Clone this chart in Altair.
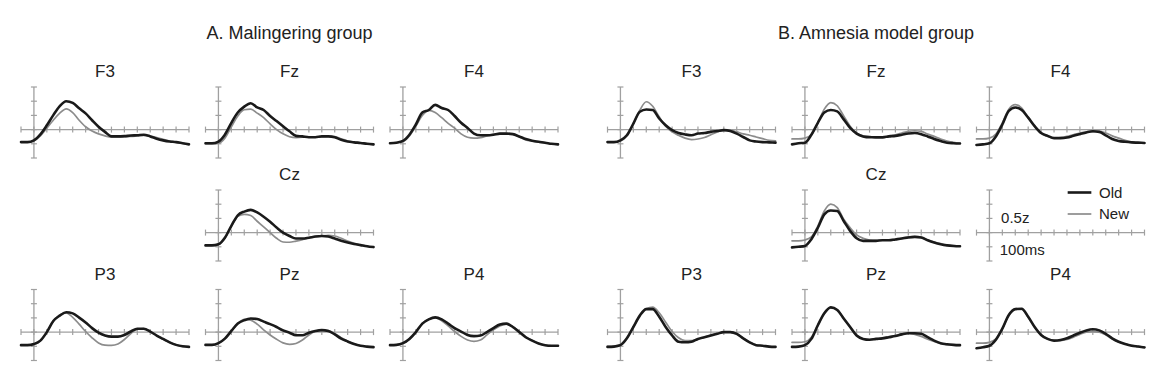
import altair as alt
import pandas as pd

# ---------------- data (z-scored ERP amplitude, sampled every 50 ms) ----------------
TIMES = list(range(-100, 1201, 50))
X_TICKS = list(range(-100, 1201, 100))
Y_TICKS = [-1, -0.5, 0, 0.5, 1, 1.5]
CONDS = ["Old", "New"]

A_F3_old = [-0.44,-0.44,-0.38,-0.17,0.15,0.51,0.83,1.00,0.94,0.75,0.57,0.33,0.10,-0.08,-0.24,-0.24,-0.23,-0.21,-0.20,-0.18,-0.24,-0.32,-0.38,-0.42,-0.44,-0.48,-0.52]
A_F3_new = [-0.44,-0.44,-0.40,-0.22,0.05,0.33,0.58,0.73,0.60,0.33,0.10,-0.05,-0.15,-0.22,-0.26,-0.26,-0.25,-0.24,-0.22,-0.20,-0.22,-0.28,-0.34,-0.40,-0.44,-0.48,-0.51]
A_Fz_old = [-0.48,-0.48,-0.42,-0.18,0.24,0.60,0.81,0.93,0.78,0.69,0.48,0.30,0.12,-0.06,-0.22,-0.24,-0.27,-0.27,-0.24,-0.24,-0.27,-0.36,-0.42,-0.45,-0.47,-0.50,-0.52]
A_Fz_new = [-0.50,-0.50,-0.48,-0.30,0.10,0.48,0.70,0.72,0.58,0.42,0.20,0.00,-0.15,-0.25,-0.28,-0.27,-0.27,-0.26,-0.25,-0.24,-0.25,-0.32,-0.40,-0.44,-0.47,-0.50,-0.52]
A_F4_old = [-0.48,-0.46,-0.40,-0.18,0.18,0.60,0.69,0.87,0.76,0.69,0.48,0.24,0.06,-0.14,-0.20,-0.20,-0.18,-0.14,-0.14,-0.16,-0.24,-0.33,-0.39,-0.43,-0.46,-0.50,-0.52]
A_F4_new = [-0.48,-0.46,-0.42,-0.22,0.12,0.50,0.68,0.60,0.42,0.22,0.05,-0.15,-0.27,-0.30,-0.28,-0.22,-0.17,-0.14,-0.14,-0.16,-0.25,-0.36,-0.40,-0.44,-0.47,-0.50,-0.52]
A_Cz_old = [-0.45,-0.45,-0.41,-0.18,0.24,0.61,0.74,0.80,0.71,0.56,0.38,0.18,0.00,-0.12,-0.21,-0.21,-0.18,-0.14,-0.12,-0.14,-0.21,-0.29,-0.35,-0.40,-0.44,-0.48,-0.51]
A_Cz_new = [-0.45,-0.45,-0.42,-0.20,0.22,0.58,0.64,0.60,0.40,0.20,0.00,-0.20,-0.33,-0.34,-0.30,-0.25,-0.18,-0.14,-0.12,-0.10,-0.12,-0.20,-0.30,-0.38,-0.43,-0.48,-0.51]
A_P3_old = [-0.46,-0.46,-0.42,-0.30,0.00,0.39,0.58,0.70,0.66,0.51,0.34,0.14,-0.02,-0.12,-0.16,-0.16,-0.10,0.02,0.12,0.12,0.02,-0.12,-0.24,-0.36,-0.45,-0.50,-0.52]
A_P3_new = [-0.46,-0.46,-0.44,-0.30,0.00,0.38,0.60,0.68,0.52,0.28,0.02,-0.20,-0.38,-0.46,-0.47,-0.42,-0.26,-0.05,0.10,0.12,0.02,-0.12,-0.25,-0.36,-0.45,-0.50,-0.52]
A_Pz_old = [-0.45,-0.45,-0.39,-0.23,0.04,0.30,0.42,0.48,0.46,0.37,0.28,0.18,0.06,-0.02,-0.11,-0.11,-0.02,0.04,0.07,0.04,-0.08,-0.23,-0.33,-0.42,-0.48,-0.51,-0.53]
A_Pz_new = [-0.45,-0.45,-0.40,-0.23,0.04,0.30,0.45,0.42,0.28,0.08,-0.10,-0.25,-0.38,-0.43,-0.40,-0.28,-0.10,0.03,0.07,0.05,-0.05,-0.20,-0.32,-0.42,-0.48,-0.52,-0.53]
A_P4_old = [-0.46,-0.45,-0.39,-0.24,0.00,0.30,0.45,0.52,0.45,0.30,0.14,0.02,-0.10,-0.14,-0.12,0.00,0.14,0.27,0.30,0.18,0.00,-0.18,-0.30,-0.40,-0.46,-0.48,-0.48]
A_P4_new = [-0.46,-0.45,-0.40,-0.25,0.00,0.30,0.45,0.50,0.40,0.22,0.02,-0.15,-0.28,-0.33,-0.28,-0.10,0.08,0.22,0.28,0.20,0.02,-0.16,-0.30,-0.40,-0.46,-0.48,-0.49]

B_F3_old = [-0.44,-0.44,-0.38,-0.20,0.21,0.63,0.71,0.69,0.39,0.15,-0.02,-0.12,-0.17,-0.20,-0.14,-0.12,-0.08,-0.05,-0.02,-0.05,-0.14,-0.26,-0.38,-0.42,-0.44,-0.45,-0.46]
B_F3_new = [-0.44,-0.44,-0.40,-0.22,0.20,0.68,0.98,0.82,0.45,0.12,-0.08,-0.20,-0.30,-0.35,-0.33,-0.28,-0.18,-0.08,-0.02,-0.02,-0.08,-0.15,-0.20,-0.26,-0.32,-0.38,-0.40]
B_Fz_old = [-0.52,-0.48,-0.46,-0.18,0.24,0.60,0.69,0.64,0.36,0.06,-0.14,-0.24,-0.27,-0.27,-0.27,-0.24,-0.22,-0.18,-0.14,-0.12,-0.16,-0.24,-0.33,-0.40,-0.46,-0.48,-0.49]
B_Fz_new = [-0.33,-0.33,-0.30,-0.18,0.24,0.72,0.95,0.84,0.48,0.12,-0.12,-0.22,-0.24,-0.30,-0.30,-0.22,-0.18,-0.12,-0.06,-0.04,-0.06,-0.16,-0.24,-0.33,-0.40,-0.45,-0.48]
B_F4_old = [-0.54,-0.52,-0.48,-0.24,0.18,0.66,0.78,0.69,0.42,0.12,-0.12,-0.22,-0.30,-0.30,-0.28,-0.22,-0.16,-0.10,-0.06,-0.08,-0.20,-0.33,-0.40,-0.43,-0.45,-0.46,-0.47]
B_F4_new = [-0.33,-0.33,-0.30,-0.16,0.24,0.72,0.88,0.76,0.42,0.12,-0.12,-0.24,-0.30,-0.28,-0.24,-0.18,-0.12,-0.08,-0.06,-0.06,-0.12,-0.22,-0.30,-0.38,-0.44,-0.47,-0.48]
B_Cz_old = [-0.52,-0.50,-0.47,-0.23,0.17,0.64,0.78,0.76,0.41,0.06,-0.20,-0.29,-0.29,-0.29,-0.27,-0.27,-0.24,-0.21,-0.17,-0.15,-0.17,-0.27,-0.35,-0.41,-0.45,-0.47,-0.48]
B_Cz_new = [-0.29,-0.29,-0.26,-0.15,0.23,0.76,1.00,0.88,0.47,0.17,-0.08,-0.20,-0.26,-0.27,-0.27,-0.26,-0.24,-0.20,-0.15,-0.14,-0.17,-0.26,-0.33,-0.39,-0.44,-0.46,-0.48]
B_P3_old = [-0.52,-0.51,-0.46,-0.22,0.18,0.58,0.81,0.81,0.54,0.18,-0.12,-0.34,-0.36,-0.34,-0.24,-0.18,-0.12,-0.06,0.00,0.00,-0.06,-0.22,-0.36,-0.46,-0.48,-0.51,-0.52]
B_P3_new = [-0.50,-0.49,-0.44,-0.22,0.18,0.58,0.82,0.88,0.68,0.35,0.02,-0.20,-0.30,-0.30,-0.25,-0.18,-0.10,-0.04,0.00,0.00,-0.06,-0.22,-0.36,-0.45,-0.48,-0.51,-0.52]
B_Pz_old = [-0.52,-0.51,-0.46,-0.24,0.24,0.66,0.87,0.78,0.48,0.18,-0.12,-0.24,-0.27,-0.24,-0.22,-0.18,-0.14,-0.08,-0.04,-0.04,-0.06,-0.18,-0.30,-0.39,-0.43,-0.45,-0.46]
B_Pz_new = [-0.36,-0.36,-0.34,-0.18,0.24,0.66,0.87,0.78,0.48,0.18,-0.12,-0.24,-0.27,-0.24,-0.20,-0.16,-0.12,-0.06,-0.04,-0.08,-0.15,-0.25,-0.33,-0.40,-0.44,-0.46,-0.47]
B_P4_old = [-0.57,-0.53,-0.48,-0.27,0.12,0.60,0.81,0.82,0.54,0.18,-0.10,-0.24,-0.30,-0.28,-0.22,-0.12,-0.02,0.06,0.10,0.06,-0.06,-0.22,-0.34,-0.42,-0.48,-0.51,-0.54]
B_P4_new = [-0.39,-0.39,-0.36,-0.24,0.12,0.60,0.81,0.80,0.52,0.18,-0.10,-0.24,-0.30,-0.30,-0.26,-0.18,-0.08,0.00,0.02,0.00,-0.10,-0.24,-0.35,-0.42,-0.47,-0.50,-0.53]

GROUP_TITLES = {"A": "A. Malingering group", "B": "B. Amnesia model group"}
SCALE_LABELS = ["0.5z", "100ms"]
SCALE_LABEL_T = [90, 80]
SCALE_LABEL_V = [0.5, -0.6]

SERIES = {
    ("A", "F3"): (A_F3_old, A_F3_new), ("A", "Fz"): (A_Fz_old, A_Fz_new), ("A", "F4"): (A_F4_old, A_F4_new),
    ("A", "Cz"): (A_Cz_old, A_Cz_new),
    ("A", "P3"): (A_P3_old, A_P3_new), ("A", "Pz"): (A_Pz_old, A_Pz_new), ("A", "P4"): (A_P4_old, A_P4_new),
    ("B", "F3"): (B_F3_old, B_F3_new), ("B", "Fz"): (B_Fz_old, B_Fz_new), ("B", "F4"): (B_F4_old, B_F4_new),
    ("B", "Cz"): (B_Cz_old, B_Cz_new),
    ("B", "P3"): (B_P3_old, B_P3_new), ("B", "Pz"): (B_Pz_old, B_Pz_new), ("B", "P4"): (B_P4_old, B_P4_new),
}

rows = []
for (g, site), (old, new) in SERIES.items():
    for cond, vals in zip(CONDS, (old, new)):
        for t, v in zip(TIMES, vals):
            rows.append({"group": g, "site": site, "cond": cond, "t": t, "v": v})
df = pd.DataFrame(rows)

# ---------------- styling ----------------
W, H = 168, 71
FONT = "Liberation Sans"
AX = "#a0a0a0"
XS = alt.Scale(domain=[X_TICKS[0], X_TICKS[-1]], nice=False, zero=False)
YS = alt.Scale(domain=[Y_TICKS[0], Y_TICKS[-1]], nice=False, zero=False)
X = alt.X("t:Q", scale=XS, axis=None)
Y = alt.Y("v:Q", scale=YS, axis=None)

LEG = alt.Legend(title=None, orient="none", legendX=1045, legendY=92,
                 symbolType="stroke", symbolSize=560, labelFont=FONT, labelFontSize=15,
                 labelColor="#222", labelOffset=6, rowPadding=0, padding=0)
COLOR = alt.Color("cond:N", scale=alt.Scale(domain=CONDS, range=["#1a1a1a", "#8c8c8c"]), legend=LEG)
SW = alt.StrokeWidth("cond:N", scale=alt.Scale(domain=CONDS, range=[2.6, 1.7]), legend=LEG)


def axes():
    hline = alt.Chart(pd.DataFrame({"t": [X_TICKS[0]], "t2": [X_TICKS[-1]], "v": [0]})).mark_rule(
        color=AX, strokeWidth=1.3).encode(x=X, x2="t2:Q", y=Y)
    vline = alt.Chart(pd.DataFrame({"t": [0], "v": [Y_TICKS[0]], "v2": [Y_TICKS[-1]]})).mark_rule(
        color=AX, strokeWidth=1.3).encode(x=X, y=Y, y2="v2:Q")
    xt = alt.Chart(pd.DataFrame({"t": X_TICKS, "v": [0] * len(X_TICKS)})).mark_tick(
        orient="vertical", size=6, thickness=1.2, color=AX, opacity=1).encode(x=X, y=Y)
    yt = alt.Chart(pd.DataFrame({"t": [0] * len(Y_TICKS), "v": Y_TICKS})).mark_tick(
        orient="horizontal", size=6, thickness=1.2, color=AX, opacity=1).encode(x=X, y=Y)
    return [hline, vline, xt, yt]


def ptitle(text):
    return alt.TitleParams(text=text, font=FONT, fontSize=17, fontWeight="normal",
                           color="#222", offset=5, anchor="middle")


def panel(g, site):
    d = df[(df.group == g) & (df.site == site)]
    waves = [
        alt.Chart(d[d.cond == c]).mark_line(interpolate="monotone", strokeJoin="round", strokeCap="round").encode(
            x=X, y=Y, color=COLOR, strokeWidth=SW)
        for c in ["New", "Old"]
    ]
    return alt.layer(*axes(), *waves).properties(width=W, height=H, title=ptitle(site))


def blank():
    return alt.Chart(pd.DataFrame({"t": [0], "v": [0]})).mark_point(opacity=0).encode(
        x=X, y=Y).properties(width=W, height=H, title=ptitle(" "))


def scale_panel():
    lab = alt.Chart(pd.DataFrame({"t": SCALE_LABEL_T, "v": SCALE_LABEL_V, "s": SCALE_LABELS})).mark_text(
        align="left", baseline="middle", font=FONT, fontSize=15, color="#222").encode(x=X, y=Y, text="s:N")
    legsrc = alt.Chart(df[(df.group == "B") & (df.site == "Cz")]).mark_line(opacity=0).encode(
        x=X, y=Y, color=COLOR, strokeWidth=SW)
    return alt.layer(*axes(), lab, legsrc).properties(width=W, height=H, title=ptitle(" "))


SP = 16.5


def group(g):
    r1 = alt.hconcat(panel(g, "F3"), panel(g, "Fz"), panel(g, "F4"), spacing=SP, bounds="flush")
    if g == "A":
        r2 = alt.hconcat(blank(), panel(g, "Cz"), spacing=SP, bounds="flush")
    else:
        r2 = alt.hconcat(blank(), panel(g, "Cz"), scale_panel(), spacing=SP, bounds="flush")
    r3 = alt.hconcat(panel(g, "P3"), panel(g, "Pz"), panel(g, "P4"), spacing=SP, bounds="flush")
    top = alt.vconcat(r1, r2, spacing=7)
    return alt.vconcat(top, r3, spacing=3.5, title=alt.TitleParams(
        text=GROUP_TITLES[g], font=FONT, fontSize=18, fontWeight="normal", color="#222",
        offset=20, anchor="middle"))


chart = alt.hconcat(group("A"), group("B"), spacing=45.5).properties(
    padding={"left": 11, "top": 17, "right": 5, "bottom": 5}, background="white"
).configure_view(strokeWidth=0, stroke="transparent")

chart.save("out.html", embed_options={"renderer": "svg", "actions": False})
